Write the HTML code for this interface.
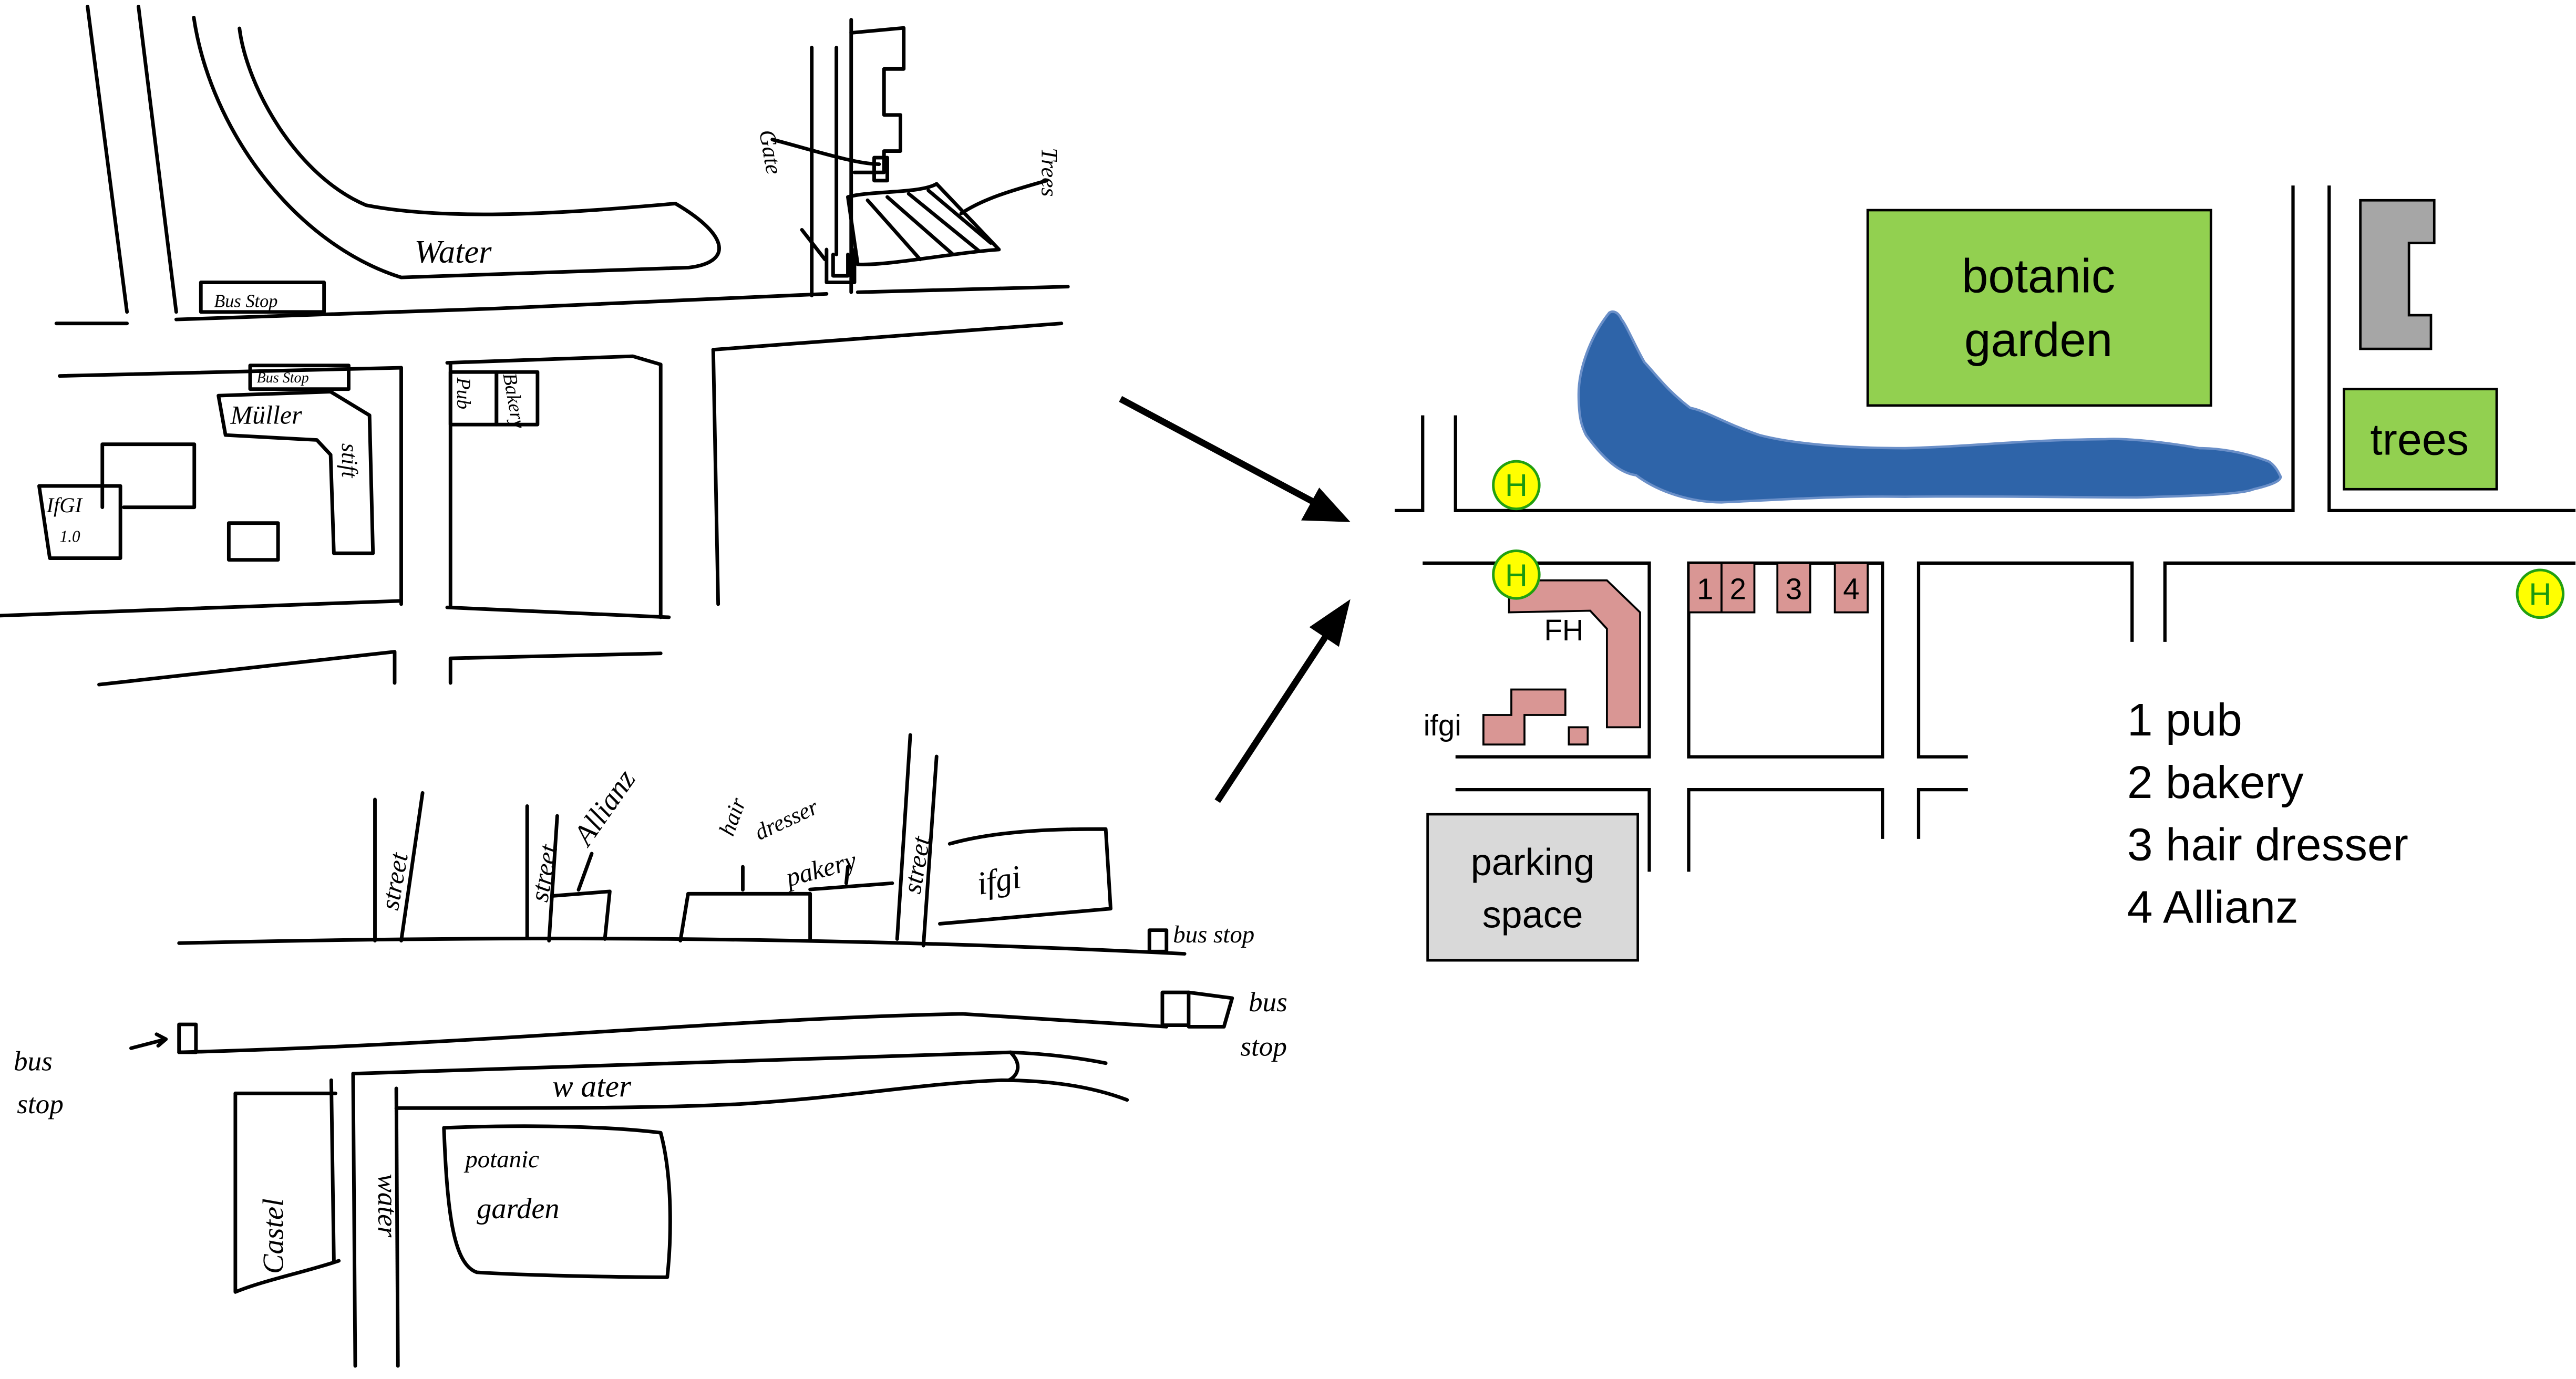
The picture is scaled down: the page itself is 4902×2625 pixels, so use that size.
<!DOCTYPE html>
<html><head><meta charset="utf-8"><style>
html,body{margin:0;padding:0;background:#fff;}
svg{display:block;}
.sk{fill:none;stroke:#000;stroke-width:2.2;stroke-linecap:round;stroke-linejoin:round;}
.hw{font-family:"Liberation Serif",serif;font-style:italic;fill:#000;}
.t{font-family:"Liberation Sans",sans-serif;fill:#000;}
.m{fill:none;stroke:#000;stroke-width:2;}
</style></head><body>
<svg width="4902" height="2625" viewBox="0 0 1568 840" xmlns="http://www.w3.org/2000/svg">
<rect width="1568" height="840" fill="#fff"/>

<g class="sk">
<path d="M53,4 L77,190"/><path d="M84,4 L107,190"/>
<path d="M117.7,10.7 C128,80 180,149 244,169 L419,163 C445,160 445,144 411,124 C364,128 278,136 222.6,125 C180,107 150,53 145.5,17.3"/>
<rect x="122" y="172" width="75" height="18"/>
<path d="M34,197 L77,197"/><path d="M107,194.6 L300,188 L503,179"/><path d="M522,178 L650,174.6"/>
<path d="M494,29 L494,180"/><path d="M509,29 L509,155"/><path d="M518,12 L518,178"/>
<path d="M518,20 L550,17 L550,42 L538,42 L538,70 L548,70 L548,92 L538,92 L538,105 L520,105"/>
<path d="M503,152 L503,172 L520,172 L520,152"/><path d="M507,155 L507,168 L516,168 L516,155"/>
<path d="M532,96 L540,96 L540,110 L532,110 Z"/>
<path d="M516,120 C530,116 560,118 570,112"/><path d="M570,112 L608,152 C580,154 540,162 522,161 L516,120"/>
<path d="M528,122 L560,158"/><path d="M540,120 L580,155"/><path d="M553,118 L596,153"/><path d="M565,116 L603,148"/>
<path d="M470,85 C490,90 520,100 535,100"/><path d="M488,140 L502,158"/><path d="M637,110 C620,115 600,120 585,130"/>
<path d="M36,229 L244,224"/><path d="M244,224 L244,368"/><path d="M0,375 L244,366"/>
<path d="M272,221 L385,217 L402,222 L402,376"/><path d="M274,221 L274,370"/><path d="M272,370 L407,376"/>
<path d="M434,213 L437,368"/><path d="M434,213 L646,197"/>
<path d="M60,417 L240,397 L240,416"/><path d="M274,416 L274,401 L402,398"/>
<path d="M132.7,241 L201,238.6 L224.7,253 L226.8,337 L203,337 L201,277 L192.6,268 L137,265 Z"/>
<rect x="152" y="222.6" width="60" height="14.4"/>
<path d="M23.5,296 L73,296 L73,340 L30,340 Z"/>
<path d="M62,309 L62,270.6 L118,270.6 L118,309 L75,309"/>
<rect x="139" y="318.6" width="30" height="22.4"/>
<rect x="274" y="226.6" width="28" height="32"/><rect x="302" y="226.6" width="25" height="32"/>
</g>
<text class="hw" x="252" y="160" font-size="20">Water</text>
<text class="hw" x="130" y="187" font-size="11">Bus Stop</text>
<text class="hw" x="156" y="233" font-size="9">Bus Stop</text>
<text class="hw" x="140" y="258" font-size="16">Müller</text>
<text class="hw" x="0" y="0" font-size="14" transform="translate(208,270) rotate(90)">stift</text>
<text class="hw" x="28" y="312" font-size="13">IfGI</text>
<text class="hw" x="36" y="330" font-size="10">1.0</text>
<text class="hw" x="0" y="0" font-size="12" transform="translate(278,230) rotate(90)">Pub</text>
<text class="hw" x="0" y="0" font-size="12" transform="translate(306,228) rotate(80)">Bakery</text>
<text class="hw" x="0" y="0" font-size="14" transform="translate(462,80) rotate(80)">Gate</text>
<text class="hw" x="0" y="0" font-size="14" transform="translate(634,90) rotate(90)">Trees</text>

<g class="sk">
<path d="M108.7,574.5 C300,570 500,570 721,581"/>
<path d="M108.7,641 C300,636 450,620 585.7,617.6 L710,625.4"/>
<path d="M214.7,654 L615,641 C640,642 660,645 673,647.6"/><path d="M615,641 C622,648 620,655 614,658"/>
<path d="M241,675 C350,675 400,675 450.5,672.5 C520,668 560,660 609.5,658 C640,658 665,662 686,670"/>
<path d="M201.4,658 L203,768"/><path d="M214.7,654 L216,832"/><path d="M241,663 L242,832"/>
<path d="M143,666 L204,666"/><path d="M143,666 L143,787 C160,780 185,775 206,768"/>
<path d="M270,687 C320,685 370,686 402,690 C410,720 408,760 406,778 C380,778 320,777 290,775 C276,770 272,740 270,687"/>
<path d="M228,487 L228,573"/><path d="M257,483 L244,573"/>
<path d="M320.7,491 L320.7,570.5"/><path d="M339,497 L334,573"/>
<path d="M336.6,545.7 L371,543 L368,572"/>
<path d="M414,573 L418.7,544.4 L493,544.4 L493,572"/><path d="M493,541.8 L543,538"/>
<path d="M554,447.7 L546,572"/><path d="M570,460.8 L562,576"/>
<path d="M578,514 C610,505 650,505 673,505 L676,553.5 L572,562.7"/>
<rect x="699.6" y="566.6" width="10.4" height="13"/>
<rect x="707.5" y="604.5" width="16" height="20"/><path d="M723.5,604.5 L750,608 L745,625.4 L723.5,625.4"/>
<rect x="108.7" y="624" width="10.3" height="17"/>
<path d="M79.5,638.5 L100.7,633"/><path d="M95,630 L100.7,633 L96,637"/>
<path d="M352,542 L360,520"/><path d="M452,542 L452,528"/><path d="M515,538 L516,528"/>
</g>
<text class="hw" x="0" y="0" font-size="16" transform="translate(242,555) rotate(-80)">street</text>
<text class="hw" x="0" y="0" font-size="16" transform="translate(333,550) rotate(-80)">street</text>
<text class="hw" x="0" y="0" font-size="18" transform="translate(358,516) rotate(-55)">Allianz</text>
<text class="hw" x="0" y="0" font-size="14" transform="translate(446,510) rotate(-70)">hair</text>
<text class="hw" x="0" y="0" font-size="14" transform="translate(462,512) rotate(-25)">dresser</text>
<text class="hw" x="0" y="0" font-size="16" transform="translate(480,540) rotate(-15)">pakery</text>
<text class="hw" x="0" y="0" font-size="16" transform="translate(560,545) rotate(-80)">street</text>
<text class="hw" x="0" y="0" font-size="20" transform="translate(596,545) rotate(-10)">ifgi</text>
<text class="hw" x="714" y="574" font-size="15">bus stop</text>
<text class="hw" x="760" y="616" font-size="17">bus</text>
<text class="hw" x="755" y="643" font-size="17">stop</text>
<text class="hw" x="8" y="652" font-size="17">bus</text>
<text class="hw" x="10" y="678" font-size="17">stop</text>
<text class="hw" x="336" y="668" font-size="19">w ater</text>
<text class="hw" x="0" y="0" font-size="18" transform="translate(172,776) rotate(-90)">Castel</text>
<text class="hw" x="0" y="0" font-size="17" transform="translate(230,715) rotate(90)">water</text>
<text class="hw" x="283" y="711" font-size="15">potanic</text>
<text class="hw" x="290" y="742" font-size="18">garden</text>

<g stroke="#000" stroke-width="4" fill="#000">
<line x1="682" y1="243" x2="800" y2="306"/>
<polygon points="822,318 792,317 803,297" stroke="none"/>
<line x1="741" y1="488" x2="810" y2="383"/>
<polygon points="822,365 815,394 797,382" stroke="none"/>
</g>

<rect x="1137" y="128" width="209" height="119" fill="#92d050" stroke="#000" stroke-width="1.5"/>
<text class="t" x="1241" y="178" font-size="29" text-anchor="middle">botanic</text>
<text class="t" x="1241" y="217" font-size="29" text-anchor="middle">garden</text>
<path d="M979.6,190.5 C968,205 961,225 961,240 C961,255 963,260 965.5,265 C975,278 985,288 996,289.5 C1010,300 1030,306 1048,306 C1090,304 1120,302 1160,302.6 C1210,302 1260,303 1301,303 C1340,302 1365,301 1372,298 C1385,295 1390,292 1388,289.5 C1386,285 1383,282 1381,281 C1365,275 1350,273 1339,273 C1310,268 1290,267 1282,267.5 C1230,268 1200,272 1160,273 C1120,273 1090,270 1071,265 C1050,258 1038,250 1029,248.5 C1015,238 1008,228 1001,220.6 C995,210 990,198 987,194.4 C985,190 982,189 979.6,190.5 Z" fill="#2e64a9" stroke="#6a8fc8" stroke-width="1.5"/>
<path d="M1437,122 L1482,122 L1482,148 L1466.6,148 L1466.6,192 L1480,192 L1480,212.5 L1437,212.5 Z" fill="#a6a6a6" stroke="#000" stroke-width="1.5"/>
<rect x="1427" y="237" width="93" height="61" fill="#92d050" stroke="#000" stroke-width="1.5"/>
<text class="t" x="1473" y="277" font-size="27" text-anchor="middle">trees</text>

<g class="m">
<path d="M849,311 L866,311 L866,253"/><path d="M886,253 L886,311 L1396,311 L1396,113"/>
<path d="M1418,113 L1418,311 L1568,311"/>
<path d="M866,343 L1004,343 L1004,461 L886,461"/>
<rect x="1028" y="343" width="118" height="118"/>
<path d="M1198,461 L1168,461 L1168,343 L1298,343 L1298,391"/>
<path d="M1318,391 L1318,343 L1568,343"/>
<path d="M886,481 L1004,481 L1004,531"/>
<path d="M1028,531 L1028,481 L1146,481 L1146,511"/>
<path d="M1168,511 L1168,481 L1198,481"/>
</g>
<rect x="869" y="496" width="128" height="89" fill="#d9d9d9" stroke="#000" stroke-width="1.5"/>
<text class="t" x="933" y="533" font-size="23" text-anchor="middle">parking</text>
<text class="t" x="933" y="565" font-size="23" text-anchor="middle">space</text>

<g fill="#d99694" stroke="#000" stroke-width="1.2">
<path d="M918.6,353.5 L978.2,353.5 L998.4,373 L998.4,443 L978.2,443 L978.2,383 L968,372 L918.6,373 Z"/>
<path d="M903,435.5 L920,435.5 L920,420 L952.9,420 L952.9,435.5 L928,435.5 L928,453.5 L903,453.5 Z"/>
<rect x="955" y="443" width="11.5" height="10.5"/>
<rect x="1028" y="343" width="20" height="30"/><rect x="1048" y="343" width="20" height="30"/>
<rect x="1082" y="343" width="20" height="30"/><rect x="1117" y="343" width="20" height="30"/>
</g>
<g class="t" font-size="18" text-anchor="middle">
<text x="1038" y="365">1</text><text x="1058" y="365">2</text><text x="1092" y="365">3</text><text x="1127" y="365">4</text>
</g>
<text class="t" x="952" y="390" font-size="18" text-anchor="middle">FH</text>
<text class="t" x="878" y="448" font-size="18" text-anchor="middle">ifgi</text>

<g fill="#ffff00" stroke="#22a010" stroke-width="1.6">
<ellipse cx="923" cy="295.5" rx="14" ry="14.5"/><ellipse cx="923" cy="350" rx="14" ry="14.5"/><ellipse cx="1546.5" cy="361.7" rx="14" ry="14.5"/>
</g>
<g class="t" font-size="19" text-anchor="middle">
<text x="923" y="302" fill="#1a9a10">H</text><text x="923" y="357" fill="#1a9a10">H</text><text x="1546.5" y="368.5" fill="#1a9a10">H</text>
</g>

<g class="t" font-size="28">
<text x="1295" y="448">1 pub</text>
<text x="1295" y="486">2 bakery</text>
<text x="1295" y="524">3 hair dresser</text>
<text x="1295" y="562">4 Allianz</text>
</g>
</svg>
</body></html>
